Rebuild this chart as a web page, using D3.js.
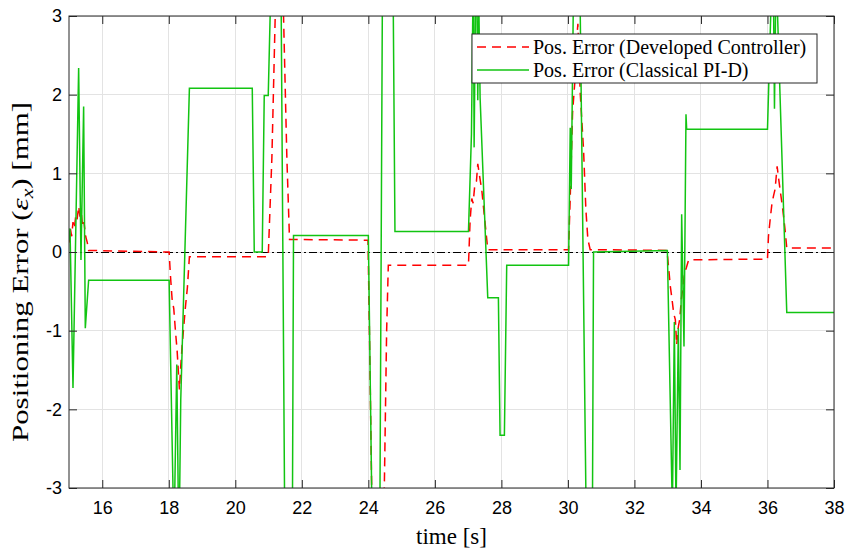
<!DOCTYPE html>
<html lang="en">
<head>
<meta charset="UTF-8">
<title>Positioning Error</title>
<style>
    body { margin: 0; background: #fff; }
    .tick text { font: 18px "Liberation Sans", Arial, sans-serif; fill: #000; }
    .label { font-family: "Liberation Serif", "Times New Roman", serif; fill: #000; }
    .grid line { stroke: #e3e3e3; stroke-width: 1; shape-rendering: crispEdges; }
</style>
</head>
<body>
<script src="https://d3js.org/d3.v7.min.js"></script>
<script>
    // Developed controller (red dashed)
    const timeDev = [15.0, 15.04, 15.08, 15.12, 15.16, 15.2, 15.24, 15.29, 15.33, 15.37, 15.41, 15.45, 15.5, 15.55, 15.59,
        18.01, 18.05, 18.1, 18.15, 18.2, 18.25, 18.32, 18.36, 18.4, 18.45, 18.5, 18.56, 18.62,
        20.99, 21.1, 21.2, 21.28, 21.38, 21.45, 21.55, 21.63,
        23.99, 24.05, 24.1, 24.2, 24.4, 24.48, 24.55, 24.6,
        27.01, 27.06, 27.11, 27.15, 27.2, 27.25, 27.29, 27.35, 27.41, 27.49, 27.56, 27.59,
        30.02, 30.07, 30.14, 30.22, 30.27, 30.3, 30.37, 30.47, 30.54, 30.6, 30.67,
        32.98, 33.08, 33.13, 33.18, 33.23, 33.27, 33.32, 33.36, 33.41, 33.46, 33.51, 33.56, 33.63,
        36.0, 36.03, 36.08, 36.13, 36.18, 36.23, 36.29, 36.33, 36.38, 36.46, 36.53, 36.58, 38.0];
    const errDev = [0.12, 0.3, 0.2, 0.38, 0.3, 0.45, 0.4, 0.58, 0.45, 0.5, 0.32, 0.38, 0.2, 0.12, 0.02,
        0.0, -0.3, -0.6, -0.72, -1.0, -1.25, -1.75, -1.45, -1.2, -0.95, -0.7, -0.45, -0.06,
        -0.06, 1.2, 3.0, 3.6, 3.5, 3.0, 1.2, 0.16,
        0.15, -1.5, -3.0, -3.6, -3.6, -3.0, -1.0, -0.17,
        -0.17, 0.41, 0.68, 0.62, 0.85, 0.9, 1.12, 0.95, 0.79, 0.45, 0.16, 0.03,
        0.03, 0.7, 1.77, 2.23, 2.74, 2.9, 2.02, 1.3, 0.54, 0.16, 0.03,
        0.02, -0.44, -0.6, -0.78, -0.86, -1.18, -0.95, -0.86, -0.6, -0.44, -0.26, -0.2, -0.1,
        -0.09, 0.2, 0.41, 0.6, 0.71, 0.8, 1.09, 0.95, 0.79, 0.54, 0.28, 0.05, 0.05];

    // Classical PI-D (green solid)
    const timePid = [15.0, 15.03, 15.12, 15.29, 15.36, 15.44, 15.49, 15.59,
        18.01, 18.14, 18.17, 18.24, 18.29, 18.32, 18.36, 18.62,
        20.51, 20.57, 20.81, 20.87, 20.99, 21.05, 21.1, 21.33, 21.38, 21.48, 21.53, 21.67, 21.72, 21.75,
        24.0, 24.1, 24.15, 24.3, 24.35, 24.42, 24.47, 24.7, 24.75, 24.8,
        27.01, 27.1, 27.14, 27.16, 27.18, 27.22, 27.26, 27.29, 27.32, 27.36, 27.59,
        27.91, 27.96, 28.09, 28.16,
        30.02, 30.07, 30.1, 30.16, 30.2, 30.33, 30.37, 30.54, 30.58, 30.7, 30.74, 30.77,
        32.99, 33.14, 33.2, 33.25, 33.32, 33.37, 33.42, 33.49, 33.55, 33.57,
        36.0, 36.1, 36.14, 36.18, 36.21, 36.25, 36.29, 36.3, 36.58, 38.0];
    const errPid = [0.15, 0.3, -1.73, 2.34, -0.1, 1.85, -0.97, -0.36,
        -0.36, -3.3, -3.3, -1.43, -3.3, -3.3, -1.88, 2.08,
        2.08, 0.0, 0.0, 1.99, 1.99, 3.05, 3.5, 3.5, 3.05, -3.05, -3.5, -3.5, -3.05, 0.21,
        0.21, -3.05, -3.5, -3.5, -3.05, 3.05, 3.5, 3.5, 3.05, 0.26,
        0.26, 1.5, 3.05, 3.3, 1.33, 3.1, 3.3, 1.93, 3.2, 1.96, -0.58,
        -0.58, -2.33, -2.33, -0.17,
        -0.17, 1.58, 0.8, 3.05, 3.5, 3.5, 3.05, -3.05, -3.5, -3.5, -3.05, 0.0,
        0.02, -3.3, -0.89, -3.3, -0.97, -2.77, 0.48, -1.2, 1.75, 1.56,
        1.56, 3.05, 3.3, 3.3, 1.82, 3.3, 3.3, 3.05, -0.77, -0.77];

    const xTicks = [16, 18, 20, 22, 24, 26, 28, 30, 32, 34, 36, 38];
    const yTicks = [-3, -2, -1, 0, 1, 2, 3];
    const legendLabels = ["Pos. Error (Developed Controller)", "Pos. Error (Classical PI-D)"];

    const width = 859, height = 552;
    const margin = { top: 16, right: 25, bottom: 64, left: 69 };
    const iw = width - margin.left - margin.right;
    const ih = height - margin.top - margin.bottom;
    const axisColor = "#262626";

    const x = d3.scaleLinear().domain([15, 38]).range([0, iw]);
    const y = d3.scaleLinear().domain([-3, 3]).range([ih, 0]);

    const svg = d3.select("body").append("svg")
        .attr("width", width)
        .attr("height", height);

    svg.append("defs").append("clipPath").attr("id", "plot-clip")
        .append("rect").attr("width", iw).attr("height", ih);

    const g = svg.append("g").attr("transform", `translate(${margin.left},${margin.top})`);

    // grid
    g.append("g").attr("class", "grid")
        .selectAll("line").data(xTicks).join("line")
        .attr("x1", d => x(d)).attr("x2", d => x(d))
        .attr("y1", 0).attr("y2", ih);
    g.append("g").attr("class", "grid")
        .selectAll("line").data(yTicks).join("line")
        .attr("x1", 0).attr("x2", iw)
        .attr("y1", d => y(d)).attr("y2", d => y(d));

    const plot = g.append("g").attr("clip-path", "url(#plot-clip)");

    // zero reference (dash-dot)
    plot.append("line")
        .attr("x1", 0).attr("x2", iw)
        .attr("y1", y(0)).attr("y2", y(0))
        .attr("stroke", "#000")
        .attr("stroke-width", 1)
        .attr("shape-rendering", "crispEdges")
        .attr("stroke-dasharray", "8,3,2,3");

    const line = d3.line().x(d => x(d[0])).y(d => y(d[1]));

    plot.append("path")
        .datum(d3.zip(timeDev, errDev))
        .attr("d", line)
        .attr("fill", "none")
        .attr("stroke", "#ff0000")
        .attr("stroke-width", 1.5)
        .attr("stroke-dasharray", "9,6");

    plot.append("path")
        .datum(d3.zip(timePid, errPid))
        .attr("d", line)
        .attr("fill", "none")
        .attr("stroke", "#12c412")
        .attr("stroke-width", 1.5);

    // axes, box style with inward ticks
    const tickLen = 8;
    const fmt = d => String(d);
    g.append("g").attr("transform", `translate(0,${ih})`)
        .call(d3.axisBottom(x).tickValues(xTicks).tickFormat(fmt).tickSizeInner(-tickLen).tickSizeOuter(0).tickPadding(13))
        .call(a => a.select(".domain").remove())
        .call(a => a.selectAll(".tick line").attr("stroke", axisColor));
    g.append("g")
        .call(d3.axisTop(x).tickValues(xTicks).tickSizeInner(-tickLen).tickSizeOuter(0).tickFormat(""))
        .call(a => a.select(".domain").remove())
        .call(a => a.selectAll(".tick line").attr("stroke", axisColor));
    g.append("g")
        .call(d3.axisLeft(y).tickValues(yTicks).tickFormat(fmt).tickSizeInner(-tickLen).tickSizeOuter(0).tickPadding(7))
        .call(a => a.select(".domain").remove())
        .call(a => a.selectAll(".tick line").attr("stroke", axisColor));
    g.append("g").attr("transform", `translate(${iw},0)`)
        .call(d3.axisRight(y).tickValues(yTicks).tickSizeInner(-tickLen).tickSizeOuter(0).tickFormat(""))
        .call(a => a.select(".domain").remove())
        .call(a => a.selectAll(".tick line").attr("stroke", axisColor));

    g.append("rect")
        .attr("width", iw).attr("height", ih)
        .attr("fill", "none")
        .attr("stroke", axisColor)
        .attr("stroke-width", 1);

    // axis labels
    svg.append("text")
        .attr("class", "label")
        .attr("x", margin.left + iw / 2)
        .attr("y", height - 8)
        .attr("text-anchor", "middle")
        .attr("font-size", 23)
        .text("time [s]");

    const yl = svg.append("text")
        .attr("class", "label")
        .attr("transform", `translate(28,272) rotate(-90)`)
        .attr("text-anchor", "middle")
        .attr("font-size", 23)
        .attr("textLength", 340)
        .attr("lengthAdjust", "spacingAndGlyphs");
    yl.append("tspan").text("Positioning Error (");
    yl.append("tspan").attr("font-style", "italic").text("ε");
    yl.append("tspan").attr("font-style", "italic").attr("font-size", 16).attr("dy", 5).text("x");
    yl.append("tspan").attr("dy", -5).text(") [mm]");

    // legend
    const legW = 345, legH = 49;
    const leg = g.append("g").attr("transform", `translate(${iw - 17 - legW},18)`);
    leg.append("rect")
        .attr("width", legW).attr("height", legH)
        .attr("fill", "#fff")
        .attr("stroke", axisColor)
        .attr("stroke-width", 1);
    const items = leg.selectAll("g.item").data(legendLabels).join("g")
        .attr("transform", (d, i) => `translate(0,${13 + i * 23})`);
    items.append("line")
        .attr("x1", 5).attr("x2", 57)
        .attr("stroke", (d, i) => i === 0 ? "#ff0000" : "#12c412")
        .attr("stroke-width", 1.5)
        .attr("stroke-dasharray", (d, i) => i === 0 ? "9,6" : null);
    items.append("text")
        .attr("class", "label")
        .attr("x", 61)
        .attr("dy", "0.33em")
        .attr("font-size", 20)
        .text(d => d);
</script>
</body>
</html>
